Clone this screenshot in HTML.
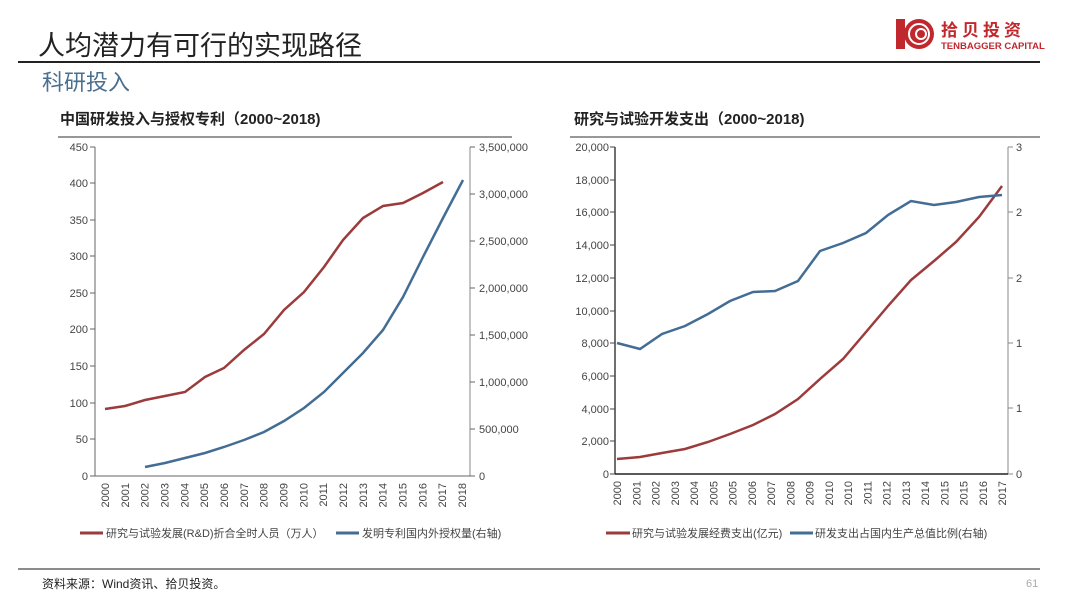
<!DOCTYPE html>
<html><head><meta charset="utf-8"><style>
body{margin:0;width:1080px;height:604px;background:#fff;overflow:hidden;font-family:"Liberation Sans","Noto Sans CJK SC",sans-serif}
svg text{font-family:"Liberation Sans","Noto Sans CJK SC",sans-serif}
</style></head><body>
<svg width="1080" height="604" viewBox="0 0 1080 604">
<text x="38" y="55" font-size="27" fill="#222">人均潜力有可行的实现路径</text>
<line x1="18" y1="62" x2="1040" y2="62" stroke="#222" stroke-width="2"/>
<text x="42" y="90" font-size="22" fill="#4a6f8f">科研投入</text>
<rect x="896" y="19" width="9" height="30" fill="#c0282d"/>
<circle cx="919" cy="34" r="15" fill="#c0282d"/>
<circle cx="919" cy="34" r="10" fill="none" stroke="#fff" stroke-width="2"/>
<circle cx="921" cy="34" r="5" fill="none" stroke="#fff" stroke-width="2"/>
<text x="941" y="36" font-size="17" font-weight="bold" fill="#c0282d" letter-spacing="4">拾贝投资</text>
<text x="941" y="49" font-size="9.5" font-weight="bold" fill="#c0282d">TENBAGGER CAPITAL</text>
<text x="60" y="124" font-size="15" font-weight="bold" fill="#222">中国研发投入与授权专利（2000~2018)</text>
<text x="574" y="124" font-size="15" font-weight="bold" fill="#222">研究与试验开发支出（2000~2018)</text>
<line x1="58" y1="137" x2="512" y2="137" stroke="#777" stroke-width="1.5"/>
<line x1="570" y1="137" x2="1040" y2="137" stroke="#777" stroke-width="1.5"/>
<g font-size="11" fill="#444">
<line x1="95" y1="147" x2="95" y2="476" stroke="#666"/>
<line x1="470" y1="147" x2="470" y2="476" stroke="#888"/>
<line x1="95" y1="476" x2="470" y2="476" stroke="#666"/>
<g text-anchor="end">
<text x="88" y="480">0</text><text x="88" y="443">50</text><text x="88" y="407">100</text><text x="88" y="370">150</text><text x="88" y="333">200</text><text x="88" y="297">250</text><text x="88" y="260">300</text><text x="88" y="224">350</text><text x="88" y="187">400</text><text x="88" y="151">450</text>
</g>
<g stroke="#666"><line x1="90" y1="476" x2="95" y2="476"/><line x1="90" y1="439" x2="95" y2="439"/><line x1="90" y1="403" x2="95" y2="403"/><line x1="90" y1="366" x2="95" y2="366"/><line x1="90" y1="329" x2="95" y2="329"/><line x1="90" y1="293" x2="95" y2="293"/><line x1="90" y1="256" x2="95" y2="256"/><line x1="90" y1="220" x2="95" y2="220"/><line x1="90" y1="183" x2="95" y2="183"/><line x1="90" y1="147" x2="95" y2="147"/>
<line x1="470" y1="476" x2="475" y2="476"/><line x1="470" y1="429" x2="475" y2="429"/><line x1="470" y1="382" x2="475" y2="382"/><line x1="470" y1="335" x2="475" y2="335"/><line x1="470" y1="288" x2="475" y2="288"/><line x1="470" y1="241" x2="475" y2="241"/><line x1="470" y1="194" x2="475" y2="194"/><line x1="470" y1="147" x2="475" y2="147"/></g>
<text x="479" y="480">0</text><text x="479" y="433">500,000</text><text x="479" y="386">1,000,000</text><text x="479" y="339">1,500,000</text><text x="479" y="292">2,000,000</text><text x="479" y="245">2,500,000</text><text x="479" y="198">3,000,000</text><text x="479" y="151">3,500,000</text>
<line x1="615" y1="147" x2="615" y2="474" stroke="#222" stroke-width="1.3"/>
<line x1="1008" y1="147" x2="1008" y2="474" stroke="#888"/>
<line x1="615" y1="474" x2="1008" y2="474" stroke="#222" stroke-width="1.5"/>
<g text-anchor="end">
<text x="609" y="478">0</text><text x="609" y="445">2,000</text><text x="609" y="413">4,000</text><text x="609" y="380">6,000</text><text x="609" y="347">8,000</text><text x="609" y="315">10,000</text><text x="609" y="282">12,000</text><text x="609" y="249">14,000</text><text x="609" y="216">16,000</text><text x="609" y="184">18,000</text><text x="609" y="151">20,000</text>
</g>
<g stroke="#444"><line x1="610" y1="474" x2="615" y2="474"/><line x1="610" y1="441" x2="615" y2="441"/><line x1="610" y1="409" x2="615" y2="409"/><line x1="610" y1="376" x2="615" y2="376"/><line x1="610" y1="343" x2="615" y2="343"/><line x1="610" y1="311" x2="615" y2="311"/><line x1="610" y1="278" x2="615" y2="278"/><line x1="610" y1="245" x2="615" y2="245"/><line x1="610" y1="212" x2="615" y2="212"/><line x1="610" y1="180" x2="615" y2="180"/><line x1="610" y1="147" x2="615" y2="147"/></g>
<g stroke="#888"><line x1="1008" y1="474" x2="1013" y2="474"/><line x1="1008" y1="408" x2="1013" y2="408"/><line x1="1008" y1="343" x2="1013" y2="343"/><line x1="1008" y1="278" x2="1013" y2="278"/><line x1="1008" y1="212" x2="1013" y2="212"/><line x1="1008" y1="147" x2="1013" y2="147"/></g>
<text x="1016" y="478">0</text><text x="1016" y="412">1</text><text x="1016" y="347">1</text><text x="1016" y="282">2</text><text x="1016" y="216">2</text><text x="1016" y="151">3</text>
</g>
<g font-size="11" fill="#444" id="xl"></g>
<polyline fill="none" stroke="#9b3b3b" stroke-width="2.5" points="105,409 125,406 145,400 165,396 185,392 205,377 224,368 244,350 264,334 284,310 304,292 324,267 343,240 363,218 383,206 403,203 423,193 443,182"/>
<polyline fill="none" stroke="#436d94" stroke-width="2.5" points="145,467 165,463 185,458 205,453 224,447 244,440 264,432 284,421 304,408 324,392 343,373 363,353 383,330 403,297 423,257 443,218 463,180"/>
<polyline fill="none" stroke="#9b3b3b" stroke-width="2.5" points="617,459 640,457 662,453 685,449 708,442 730,434 753,425 775,414 798,399 820,379 843,359 866,332 888,306 911,280 934,261 956,242 979,217 1002,186"/>
<polyline fill="none" stroke="#436d94" stroke-width="2.5" points="617,343 640,349 662,334 685,326 708,314 730,301 753,292 775,291 798,281 820,251 843,243 866,233 888,215 911,201 934,205 956,202 979,197 1002,195"/>
<line x1="80" y1="533" x2="103" y2="533" stroke="#9b3b3b" stroke-width="3"/>
<text x="106" y="537" font-size="11" fill="#444">研究与试验发展(R&amp;D)折合全时人员（万人）</text>
<line x1="336" y1="533" x2="359" y2="533" stroke="#436d94" stroke-width="3"/>
<text x="362" y="537" font-size="11" fill="#444">发明专利国内外授权量(右轴)</text>
<line x1="606" y1="533" x2="630" y2="533" stroke="#9b3b3b" stroke-width="3"/>
<text x="632" y="537" font-size="11" fill="#444">研究与试验发展经费支出(亿元)</text>
<line x1="790" y1="533" x2="813" y2="533" stroke="#436d94" stroke-width="3"/>
<text x="815" y="537" font-size="11" fill="#444">研发支出占国内生产总值比例(右轴)</text>
<line x1="18" y1="569" x2="1040" y2="569" stroke="#666" stroke-width="1.5"/>
<text x="42" y="588" font-size="12" fill="#222">资料来源：Wind资讯、拾贝投资。</text>
<text x="1026" y="587" font-size="11" fill="#aaa">61</text>
</svg>
<script>
var ns="http://www.w3.org/2000/svg",g=document.getElementById("xl");
function lab(x,y,t){var e=document.createElementNS(ns,"text");e.setAttribute("transform","translate("+(x+4)+","+y+") rotate(-90)");e.setAttribute("text-anchor","end");e.textContent=t;g.appendChild(e);}
for(var i=0;i<19;i++)lab(105+i*19.83,483,String(2000+i));
var r=["2000","2001","2002","2003","2004","2005","2005","2006","2007","2008","2009","2010","2010","2011","2012","2013","2014","2015","2015","2016","2017"];
for(var j=0;j<r.length;j++)lab(617+j*(385/20),481,r[j]);
</script>
</body></html>
